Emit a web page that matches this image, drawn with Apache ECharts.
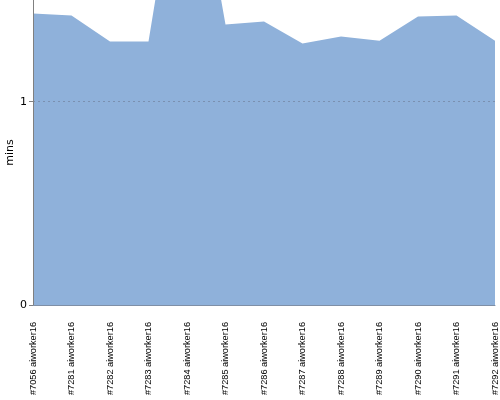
<!DOCTYPE html>
<html>
<head>
<meta charset="utf-8">
<script src="https://cdn.jsdelivr.net/npm/echarts@6/dist/echarts.min.js"></script>
<style>html,body{margin:0;padding:0;background:#fff}#c{width:500px;height:400px}</style>
</head>
<body>
<div id="c"></div>
<script>
var categories = ["#7056 aiworker16","#7281 aiworker16","#7282 aiworker16","#7283 aiworker16","#7284 aiworker16","#7285 aiworker16","#7286 aiworker16","#7287 aiworker16","#7288 aiworker16","#7289 aiworker16","#7290 aiworker16","#7291 aiworker16","#7292 aiworker16"];
var minsValues = [1.433, 1.424, 1.296, 1.296, 2.45, 1.379, 1.394, 1.286, 1.320, 1.300, 1.419, 1.424, 1.300];
var yTicks = [0, 1];

var chart = echarts.init(document.getElementById('c'));
chart.setOption({
  animation: false,
  grid: {left: 33, right: 5, top: 0, bottom: 95, containLabel: false, outerBoundsMode: 'none'},
  xAxis: {
    type: 'category',
    data: categories,
    boundaryGap: false,
    z: 5,
    axisLine: {show: true, lineStyle: {color: '#7f8fa6', width: 1}},
    axisTick: {show: false},
    axisLabel: {rotate: 90, margin: 17, fontFamily: 'Liberation Sans', fontSize: 9.2, color: '#000', interval: 0}
  },
  yAxis: {
    type: 'value',
    min: 0, max: 1.5, interval: 1,
    z: 5,
    name: 'mins', nameLocation: 'middle', nameGap: 17, nameMoveOverlap: false,
    nameTextStyle: {fontFamily: 'DejaVu Sans', fontSize: 11, color: '#000'},
    axisLine: {show: true, lineStyle: {color: '#808080', width: 1}},
    axisTick: {show: true, length: 4, lineStyle: {color: '#808080'}, customValues: yTicks},
    axisLabel: {margin: 6, fontFamily: 'DejaVu Sans', fontSize: 11, color: '#000', customValues: yTicks},
    splitLine: {show: false}
  },
  series: [{
    type: 'line',
    data: minsValues,
    showSymbol: false,
    symbol: 'none',
    lineStyle: {width: 0},
    areaStyle: {color: '#8fb1da', opacity: 1},
    itemStyle: {color: '#8fb1da'},
    z: 1,
    markLine: {
      silent: true,
      symbol: 'none',
      label: {show: false},
      lineStyle: {color: '#7a90b0', type: [2, 3], width: 1},
      data: [{yAxis: 1}]
    }
  }]
});
</script>
</body>
</html>
